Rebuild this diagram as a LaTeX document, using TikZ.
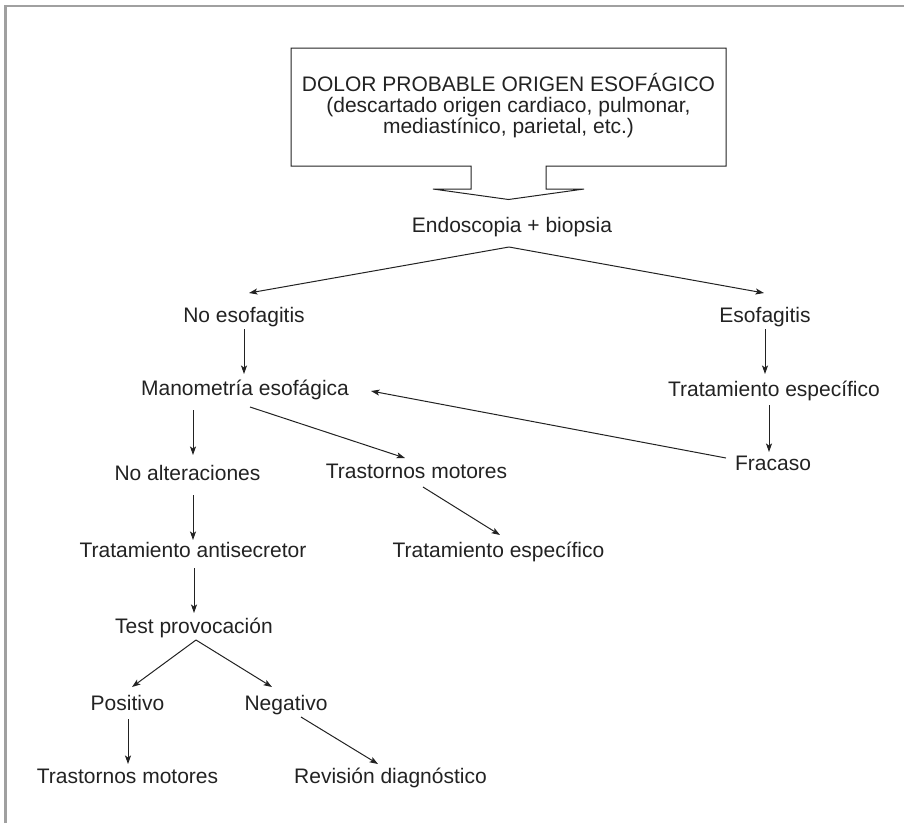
\documentclass[tikz,border=0pt]{standalone}
\usepackage{fontspec}
\setmainfont{Liberation Sans}
\usetikzlibrary{arrows.meta,calc}
\definecolor{ink}{HTML}{222222}
\definecolor{framegray}{HTML}{A0A0A0}
\begin{document}
\begin{tikzpicture}[x=1pt,y=-1pt,
  lbl/.style={font=\fontsize{21}{24}\selectfont, text=ink, inner sep=0pt, anchor=base},
  arr/.style={draw=ink, line width=1pt, -{Stealth[length=8.5pt,width=6pt,inset=2pt]}},
  outline/.style={draw=ink, line width=1pt, line join=miter}]
\useasboundingbox (0,0) rectangle (904,823);
% frame
\draw[framegray, line width=2.4pt] (5.5,823) -- (5.5,6.2) -- (904,6.2);
% top box with arrow
\draw[outline] (471,166) -- (471,189) -- (433,189) -- (508.5,199.5) -- (584,189) -- (546,189) -- (546,166)
  -- (726,166) -- (726,48) -- (291,48) -- (291,166) -- cycle;
\node[lbl, align=center, font=\fontsize{21}{21}\selectfont] (top) at (508.5,133)
  {DOLOR PROBABLE ORIGEN ESOFÁGICO\\(descartado origen cardiaco, pulmonar,\\mediastínico, parietal, etc.)};
% nodes
\node[lbl] (endo) at (512,232) {Endoscopia + biopsia};
\node[lbl] (noesof) at (244,322) {No esofagitis};
\node[lbl] (esof) at (765,322) {Esofagitis};
\node[lbl] (mano) at (245,395) {Manometría esofágica};
\node[lbl] (trat1) at (774,396) {Tratamiento específico};
\node[lbl] (fracaso) at (773,470) {Fracaso};
\node[lbl] (noalt) at (187.5,480) {No alteraciones};
\node[lbl] (trast1) at (416.5,478) {Trastornos motores};
\node[lbl] (antis) at (193,557) {Tratamiento antisecretor};
\node[lbl] (trat2) at (498.5,557) {Tratamiento específico};
\node[lbl] (test) at (194,633) {Test provocación};
\node[lbl] (pos) at (127.5,710) {Positivo};
\node[lbl] (neg) at (286,710) {Negativo};
\node[lbl] (trast2) at (127.5,783) {Trastornos motores};
\node[lbl] (rev) at (390.5,783) {Revisión diagnóstico};
% connectors
\coordinate (split) at ($(endo.base)+(-3,15)$);
\draw[arr] (split) -- ($(noesof.base)+(5,-29)$);
\draw[arr] (split) -- ($(esof.base)+(-1,-29)$);
\draw[arr] ($(noesof.base)+(0,7)$) -- ($(mano.base)+(-1,-21)$);
\draw[arr] ($(esof.base)+(0,7)$) -- ($(trat1.base)+(-9,-22)$);
\draw[arr] ($(trat1.base)+(-5,9)$) -- ($(fracaso.base)+(-4,-18)$);
\draw[arr] ($(fracaso.base)+(-47,-12)$) -- ($(mano.base)+(126,-4)$);
\draw[arr] ($(mano.base)+(-52,15)$) -- ($(noalt.base)+(5.5,-25)$);
\draw[arr] ($(mano.base)+(5,12)$) -- ($(trast1.base)+(-11.5,-20)$);
\draw[arr] ($(trast1.base)+(6.5,9)$) -- ($(trat2.base)+(1.5,-22)$);
\draw[arr] ($(noalt.base)+(5.5,15)$) -- ($(antis.base)+(0,-17)$);
\draw[arr] ($(antis.base)+(1,11)$) -- ($(test.base)+(0,-20)$);
\draw[arr] ($(test.base)+(2,7)$) -- ($(pos.base)+(4.5,-23)$);
\draw[arr] ($(test.base)+(2,7)$) -- ($(neg.base)+(-14,-23)$);
\draw[arr] ($(pos.base)+(0.5,9)$) -- ($(trast2.base)+(0.5,-19)$);
\draw[arr] ($(neg.base)+(15,7)$) -- ($(rev.base)+(-12.5,-19)$);
\end{tikzpicture}
\end{document}
